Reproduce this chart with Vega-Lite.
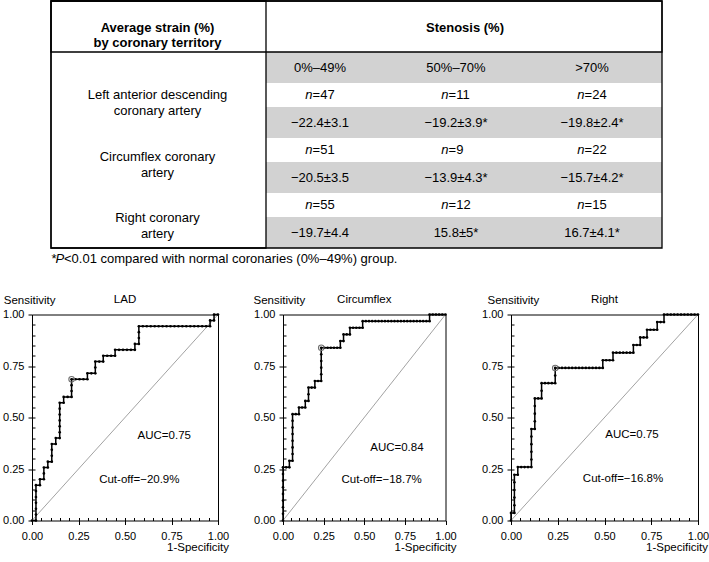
{
  "$schema": "https://vega.github.io/schema/vega-lite/v6.json",
  "padding": {"left": 2, "top": 0, "right": 0, "bottom": 0},
  "background": "white",
  "spacing": 23.5,
  "config": {
    "font": "Liberation Sans",
    "view": {"stroke": null},
    "text": {"font": "Liberation Sans", "fontSize": 13, "color": "black"},
    "axis": {"labelFont": "Liberation Sans", "titleFont": "Liberation Sans", "labelColor": "black", "titleColor": "black", "tickColor": "black", "domainColor": "black", "grid": false, "labelFlush": false},
    "title": {"font": "Liberation Sans", "color": "black", "fontWeight": "normal", "fontSize": 11.5}
  },
  "datasets": {
    "cells": [
      {"row": "r0", "territory": "all", "col": "0%–49%", "kind": "range", "label": "0%–49%"},
      {"row": "r0", "territory": "all", "col": "50%–70%", "kind": "range", "label": "50%–70%"},
      {"row": "r0", "territory": "all", "col": ">70%", "kind": "range", "label": ">70%"},
      {"row": "r1", "territory": "LAD", "col": "0%–49%", "kind": "n", "label": "n=47"},
      {"row": "r1", "territory": "LAD", "col": "50%–70%", "kind": "n", "label": "n=11"},
      {"row": "r1", "territory": "LAD", "col": ">70%", "kind": "n", "label": "n=24"},
      {"row": "r2", "territory": "LAD", "col": "0%–49%", "kind": "strain", "label": "−22.4±3.1"},
      {"row": "r2", "territory": "LAD", "col": "50%–70%", "kind": "strain", "label": "−19.2±3.9*"},
      {"row": "r2", "territory": "LAD", "col": ">70%", "kind": "strain", "label": "−19.8±2.4*"},
      {"row": "r3", "territory": "Circumflex", "col": "0%–49%", "kind": "n", "label": "n=51"},
      {"row": "r3", "territory": "Circumflex", "col": "50%–70%", "kind": "n", "label": "n=9"},
      {"row": "r3", "territory": "Circumflex", "col": ">70%", "kind": "n", "label": "n=22"},
      {"row": "r4", "territory": "Circumflex", "col": "0%–49%", "kind": "strain", "label": "−20.5±3.5"},
      {"row": "r4", "territory": "Circumflex", "col": "50%–70%", "kind": "strain", "label": "−13.9±4.3*"},
      {"row": "r4", "territory": "Circumflex", "col": ">70%", "kind": "strain", "label": "−15.7±4.2*"},
      {"row": "r5", "territory": "Right", "col": "0%–49%", "kind": "n", "label": "n=55"},
      {"row": "r5", "territory": "Right", "col": "50%–70%", "kind": "n", "label": "n=12"},
      {"row": "r5", "territory": "Right", "col": ">70%", "kind": "n", "label": "n=15"},
      {"row": "r6", "territory": "Right", "col": "0%–49%", "kind": "strain", "label": "−19.7±4.4"},
      {"row": "r6", "territory": "Right", "col": "50%–70%", "kind": "strain", "label": "15.8±5*"},
      {"row": "r6", "territory": "Right", "col": ">70%", "kind": "strain", "label": "16.7±4.1*"}
    ],
    "territories": [
      {"territory": "LAD", "label": ["Left anterior descending", "coronary artery"]},
      {"territory": "Circumflex", "label": ["Circumflex coronary", "artery"]},
      {"territory": "Right", "label": ["Right coronary", "artery"]}
    ],
    "cutoff": [
      {"territory": "LAD", "fpr": 0.2128, "sens": 0.6857},
      {"territory": "Circumflex", "fpr": 0.2353, "sens": 0.8387},
      {"territory": "Right", "fpr": 0.2364, "sens": 0.7407}
    ],
    "notes": [
      {"territory": "LAD", "title": "LAD", "auc": "AUC=0.75", "cut": "Cut-off=−20.9%"},
      {"territory": "Circumflex", "title": "Circumflex", "auc": "AUC=0.84", "cut": "Cut-off=−18.7%"},
      {"territory": "Right", "title": "Right", "auc": "AUC=0.75", "cut": "Cut-off=−16.8%"}
    ],
    "lad": [
      {"fpr": 0, "sens": 0}, {"fpr": 0.0213, "sens": 0}, {"fpr": 0.0213, "sens": 0.0286}, {"fpr": 0.0213, "sens": 0.0571}, {"fpr": 0.0213, "sens": 0.0857}, {"fpr": 0.0213, "sens": 0.1143}, {"fpr": 0.0213, "sens": 0.1429}, {"fpr": 0.0213, "sens": 0.1714},
      {"fpr": 0.0426, "sens": 0.1714}, {"fpr": 0.0426, "sens": 0.2},
      {"fpr": 0.0638, "sens": 0.2}, {"fpr": 0.0638, "sens": 0.2286}, {"fpr": 0.0638, "sens": 0.2571},
      {"fpr": 0.0851, "sens": 0.2571}, {"fpr": 0.0851, "sens": 0.2857},
      {"fpr": 0.1064, "sens": 0.2857}, {"fpr": 0.1064, "sens": 0.3143}, {"fpr": 0.1064, "sens": 0.3429}, {"fpr": 0.1064, "sens": 0.3714},
      {"fpr": 0.1277, "sens": 0.3714}, {"fpr": 0.1277, "sens": 0.4},
      {"fpr": 0.1489, "sens": 0.4}, {"fpr": 0.1489, "sens": 0.4286}, {"fpr": 0.1489, "sens": 0.4571}, {"fpr": 0.1489, "sens": 0.4857}, {"fpr": 0.1489, "sens": 0.5143}, {"fpr": 0.1489, "sens": 0.5429}, {"fpr": 0.1489, "sens": 0.5714},
      {"fpr": 0.1702, "sens": 0.5714}, {"fpr": 0.1702, "sens": 0.6},
      {"fpr": 0.1915, "sens": 0.6}, {"fpr": 0.2128, "sens": 0.6}, {"fpr": 0.2128, "sens": 0.6286}, {"fpr": 0.2128, "sens": 0.6571}, {"fpr": 0.2128, "sens": 0.6857},
      {"fpr": 0.234, "sens": 0.6857}, {"fpr": 0.2553, "sens": 0.6857}, {"fpr": 0.2766, "sens": 0.6857}, {"fpr": 0.2979, "sens": 0.6857}, {"fpr": 0.2979, "sens": 0.7143},
      {"fpr": 0.3191, "sens": 0.7143}, {"fpr": 0.3404, "sens": 0.7143}, {"fpr": 0.3404, "sens": 0.7429}, {"fpr": 0.3404, "sens": 0.7714},
      {"fpr": 0.3617, "sens": 0.7714}, {"fpr": 0.383, "sens": 0.7714}, {"fpr": 0.383, "sens": 0.8},
      {"fpr": 0.4043, "sens": 0.8}, {"fpr": 0.4255, "sens": 0.8}, {"fpr": 0.4468, "sens": 0.8}, {"fpr": 0.4468, "sens": 0.8286},
      {"fpr": 0.4681, "sens": 0.8286}, {"fpr": 0.4894, "sens": 0.8286}, {"fpr": 0.5106, "sens": 0.8286}, {"fpr": 0.5319, "sens": 0.8286}, {"fpr": 0.5532, "sens": 0.8286}, {"fpr": 0.5532, "sens": 0.8571},
      {"fpr": 0.5745, "sens": 0.8571}, {"fpr": 0.5745, "sens": 0.8857}, {"fpr": 0.5745, "sens": 0.9143}, {"fpr": 0.5745, "sens": 0.9429},
      {"fpr": 0.5957, "sens": 0.9429}, {"fpr": 0.617, "sens": 0.9429}, {"fpr": 0.6383, "sens": 0.9429}, {"fpr": 0.6596, "sens": 0.9429}, {"fpr": 0.6809, "sens": 0.9429}, {"fpr": 0.7021, "sens": 0.9429}, {"fpr": 0.7234, "sens": 0.9429}, {"fpr": 0.7447, "sens": 0.9429}, {"fpr": 0.766, "sens": 0.9429}, {"fpr": 0.7872, "sens": 0.9429}, {"fpr": 0.8085, "sens": 0.9429}, {"fpr": 0.8298, "sens": 0.9429}, {"fpr": 0.8511, "sens": 0.9429}, {"fpr": 0.8723, "sens": 0.9429}, {"fpr": 0.8936, "sens": 0.9429}, {"fpr": 0.9149, "sens": 0.9429}, {"fpr": 0.9362, "sens": 0.9429}, {"fpr": 0.9574, "sens": 0.9429},
      {"fpr": 0.9574, "sens": 0.9714}, {"fpr": 0.9787, "sens": 0.9714}, {"fpr": 0.9787, "sens": 1}, {"fpr": 1, "sens": 1}
    ],
    "cx": [
      {"fpr": 0, "sens": 0}, {"fpr": 0, "sens": 0.0323}, {"fpr": 0, "sens": 0.0645}, {"fpr": 0, "sens": 0.0968}, {"fpr": 0, "sens": 0.129}, {"fpr": 0, "sens": 0.1613}, {"fpr": 0, "sens": 0.1935}, {"fpr": 0, "sens": 0.2258}, {"fpr": 0, "sens": 0.2581},
      {"fpr": 0.0196, "sens": 0.2581}, {"fpr": 0.0392, "sens": 0.2581}, {"fpr": 0.0392, "sens": 0.2903},
      {"fpr": 0.0588, "sens": 0.2903}, {"fpr": 0.0588, "sens": 0.3226}, {"fpr": 0.0588, "sens": 0.3548}, {"fpr": 0.0588, "sens": 0.3871}, {"fpr": 0.0588, "sens": 0.4194}, {"fpr": 0.0588, "sens": 0.4516}, {"fpr": 0.0588, "sens": 0.4839}, {"fpr": 0.0588, "sens": 0.5161},
      {"fpr": 0.0784, "sens": 0.5161}, {"fpr": 0.098, "sens": 0.5161}, {"fpr": 0.098, "sens": 0.5484},
      {"fpr": 0.1176, "sens": 0.5484}, {"fpr": 0.1373, "sens": 0.5484}, {"fpr": 0.1373, "sens": 0.5806},
      {"fpr": 0.1569, "sens": 0.5806}, {"fpr": 0.1569, "sens": 0.6129}, {"fpr": 0.1569, "sens": 0.6452},
      {"fpr": 0.1765, "sens": 0.6452}, {"fpr": 0.1961, "sens": 0.6452}, {"fpr": 0.1961, "sens": 0.6774},
      {"fpr": 0.2157, "sens": 0.6774}, {"fpr": 0.2353, "sens": 0.6774}, {"fpr": 0.2353, "sens": 0.7097}, {"fpr": 0.2353, "sens": 0.7419}, {"fpr": 0.2353, "sens": 0.7742}, {"fpr": 0.2353, "sens": 0.8065}, {"fpr": 0.2353, "sens": 0.8387},
      {"fpr": 0.2549, "sens": 0.8387}, {"fpr": 0.2745, "sens": 0.8387}, {"fpr": 0.2941, "sens": 0.8387}, {"fpr": 0.3137, "sens": 0.8387}, {"fpr": 0.3333, "sens": 0.8387}, {"fpr": 0.3529, "sens": 0.8387}, {"fpr": 0.3529, "sens": 0.871},
      {"fpr": 0.3725, "sens": 0.871}, {"fpr": 0.3725, "sens": 0.9032},
      {"fpr": 0.3922, "sens": 0.9032}, {"fpr": 0.4118, "sens": 0.9032}, {"fpr": 0.4118, "sens": 0.9355},
      {"fpr": 0.4314, "sens": 0.9355}, {"fpr": 0.451, "sens": 0.9355}, {"fpr": 0.4706, "sens": 0.9355}, {"fpr": 0.4902, "sens": 0.9355}, {"fpr": 0.4902, "sens": 0.9677},
      {"fpr": 0.5098, "sens": 0.9677}, {"fpr": 0.5294, "sens": 0.9677}, {"fpr": 0.549, "sens": 0.9677}, {"fpr": 0.5686, "sens": 0.9677}, {"fpr": 0.5882, "sens": 0.9677}, {"fpr": 0.6078, "sens": 0.9677}, {"fpr": 0.6275, "sens": 0.9677}, {"fpr": 0.6471, "sens": 0.9677}, {"fpr": 0.6667, "sens": 0.9677}, {"fpr": 0.6863, "sens": 0.9677}, {"fpr": 0.7059, "sens": 0.9677}, {"fpr": 0.7255, "sens": 0.9677}, {"fpr": 0.7451, "sens": 0.9677}, {"fpr": 0.7647, "sens": 0.9677}, {"fpr": 0.7843, "sens": 0.9677}, {"fpr": 0.8039, "sens": 0.9677}, {"fpr": 0.8235, "sens": 0.9677}, {"fpr": 0.8431, "sens": 0.9677}, {"fpr": 0.8627, "sens": 0.9677}, {"fpr": 0.8824, "sens": 0.9677}, {"fpr": 0.902, "sens": 0.9677},
      {"fpr": 0.902, "sens": 1}, {"fpr": 0.9216, "sens": 1}, {"fpr": 0.9412, "sens": 1}, {"fpr": 0.9608, "sens": 1}, {"fpr": 0.9804, "sens": 1}, {"fpr": 1, "sens": 1}
    ],
    "rca": [
      {"fpr": 0, "sens": 0}, {"fpr": 0, "sens": 0.037},
      {"fpr": 0.0182, "sens": 0.037}, {"fpr": 0.0182, "sens": 0.0741}, {"fpr": 0.0182, "sens": 0.1111}, {"fpr": 0.0182, "sens": 0.1481}, {"fpr": 0.0182, "sens": 0.1852}, {"fpr": 0.0182, "sens": 0.2222},
      {"fpr": 0.0364, "sens": 0.2222}, {"fpr": 0.0364, "sens": 0.2593},
      {"fpr": 0.0545, "sens": 0.2593}, {"fpr": 0.0727, "sens": 0.2593}, {"fpr": 0.0909, "sens": 0.2593}, {"fpr": 0.1091, "sens": 0.2593}, {"fpr": 0.1091, "sens": 0.2963}, {"fpr": 0.1091, "sens": 0.3333}, {"fpr": 0.1091, "sens": 0.3704}, {"fpr": 0.1091, "sens": 0.4074}, {"fpr": 0.1091, "sens": 0.4444},
      {"fpr": 0.1273, "sens": 0.4444}, {"fpr": 0.1273, "sens": 0.4815}, {"fpr": 0.1273, "sens": 0.5185}, {"fpr": 0.1273, "sens": 0.5556}, {"fpr": 0.1273, "sens": 0.5926},
      {"fpr": 0.1455, "sens": 0.5926}, {"fpr": 0.1636, "sens": 0.5926}, {"fpr": 0.1636, "sens": 0.6296}, {"fpr": 0.1636, "sens": 0.6667},
      {"fpr": 0.1818, "sens": 0.6667}, {"fpr": 0.2, "sens": 0.6667}, {"fpr": 0.2182, "sens": 0.6667}, {"fpr": 0.2364, "sens": 0.6667}, {"fpr": 0.2364, "sens": 0.7037}, {"fpr": 0.2364, "sens": 0.7407},
      {"fpr": 0.2545, "sens": 0.7407}, {"fpr": 0.2727, "sens": 0.7407}, {"fpr": 0.2909, "sens": 0.7407}, {"fpr": 0.3091, "sens": 0.7407}, {"fpr": 0.3273, "sens": 0.7407}, {"fpr": 0.3455, "sens": 0.7407}, {"fpr": 0.3636, "sens": 0.7407}, {"fpr": 0.3818, "sens": 0.7407}, {"fpr": 0.4, "sens": 0.7407}, {"fpr": 0.4182, "sens": 0.7407}, {"fpr": 0.4364, "sens": 0.7407}, {"fpr": 0.4545, "sens": 0.7407}, {"fpr": 0.4727, "sens": 0.7407}, {"fpr": 0.4909, "sens": 0.7407},
      {"fpr": 0.4909, "sens": 0.7778}, {"fpr": 0.5091, "sens": 0.7778}, {"fpr": 0.5273, "sens": 0.7778}, {"fpr": 0.5455, "sens": 0.7778}, {"fpr": 0.5455, "sens": 0.8148},
      {"fpr": 0.5636, "sens": 0.8148}, {"fpr": 0.5818, "sens": 0.8148}, {"fpr": 0.6, "sens": 0.8148}, {"fpr": 0.6182, "sens": 0.8148}, {"fpr": 0.6364, "sens": 0.8148}, {"fpr": 0.6545, "sens": 0.8148}, {"fpr": 0.6545, "sens": 0.8519},
      {"fpr": 0.6727, "sens": 0.8519}, {"fpr": 0.6909, "sens": 0.8519}, {"fpr": 0.6909, "sens": 0.8889},
      {"fpr": 0.7091, "sens": 0.8889}, {"fpr": 0.7273, "sens": 0.8889}, {"fpr": 0.7273, "sens": 0.9259},
      {"fpr": 0.7455, "sens": 0.9259}, {"fpr": 0.7636, "sens": 0.9259}, {"fpr": 0.7818, "sens": 0.9259}, {"fpr": 0.7818, "sens": 0.963},
      {"fpr": 0.8, "sens": 0.963}, {"fpr": 0.8182, "sens": 0.963}, {"fpr": 0.8182, "sens": 1},
      {"fpr": 0.8364, "sens": 1}, {"fpr": 0.8545, "sens": 1}, {"fpr": 0.8727, "sens": 1}, {"fpr": 0.8909, "sens": 1}, {"fpr": 0.9091, "sens": 1}, {"fpr": 0.9273, "sens": 1}, {"fpr": 0.9455, "sens": 1}, {"fpr": 0.9636, "sens": 1}, {"fpr": 0.9818, "sens": 1}, {"fpr": 1, "sens": 1}
    ]
  },
  "vconcat": [
    {
      "width": 677,
      "height": 270,
      "view": {"stroke": null},
      "layer": [
        {
          "data": {"name": "cells"},
          "transform": [{"filter": "datum.kind !== 'n'"}],
          "mark": {"type": "rect", "fill": "#d2d2d2"},
          "encoding": {
            "x": {"field": "col", "type": "nominal", "scale": {"type": "band", "domain": ["0%–49%", "50%–70%", ">70%"], "range": [234, 630], "paddingInner": 0, "paddingOuter": 0}, "axis": null},
            "y": {"field": "row", "type": "nominal", "scale": {"type": "band", "domain": ["r0", "r2", "r4", "r6"], "range": [52, 248], "paddingInner": 0.4364, "paddingOuter": 0}, "axis": null}
          }
        },
        {
          "data": {"values": [{"part": "table"}]},
          "mark": {"type": "rect", "filled": false, "color": "black", "strokeWidth": 1.3},
          "encoding": {
            "x": {"field": "part", "type": "nominal", "scale": {"type": "band", "domain": ["table"], "range": [19, 630], "paddingInner": 0, "paddingOuter": 0}, "axis": null},
            "y": {"field": "part", "type": "nominal", "scale": {"type": "band", "domain": ["table"], "range": [1, 248], "paddingInner": 0, "paddingOuter": 0}, "axis": null}
          }
        },
        {
          "data": {"values": [{"part": "header"}]},
          "mark": {"type": "rect", "filled": false, "color": "black", "strokeWidth": 1.3},
          "encoding": {
            "x": {"field": "part", "type": "nominal", "scale": {"type": "band", "domain": ["header"], "range": [19, 630], "paddingInner": 0, "paddingOuter": 0}, "axis": null},
            "y": {"field": "part", "type": "nominal", "scale": {"type": "band", "domain": ["header"], "range": [1, 52], "paddingInner": 0, "paddingOuter": 0}, "axis": null}
          }
        },
        {
          "data": {"values": [{"part": "territory"}]},
          "mark": {"type": "rect", "filled": false, "color": "black", "strokeWidth": 1.3},
          "encoding": {
            "x": {"field": "part", "type": "nominal", "scale": {"type": "band", "domain": ["territory"], "range": [19, 234], "paddingInner": 0, "paddingOuter": 0}, "axis": null},
            "y": {"field": "part", "type": "nominal", "scale": {"type": "band", "domain": ["territory"], "range": [1, 248], "paddingInner": 0, "paddingOuter": 0}, "axis": null}
          }
        },
        {
          "data": {"name": "cells"},
          "transform": [{"filter": "datum.kind !== 'n'"}],
          "mark": {"type": "text", "fontSize": 13},
          "encoding": {
            "x": {"field": "col", "type": "nominal", "scale": {"type": "point", "domain": ["0%–49%", "50%–70%", ">70%"], "range": [288, 560], "padding": 0}, "axis": null},
            "y": {"field": "row", "type": "nominal", "scale": {"type": "point", "domain": ["r0", "r1", "r2", "r3", "r4", "r5", "r6"], "range": [67.5, 232.5], "padding": 0}, "axis": null},
            "text": {"field": "label"}
          }
        },
        {
          "data": {"name": "cells"},
          "transform": [{"filter": "datum.kind === 'n'"}],
          "mark": {"type": "text", "fontSize": 13, "fontStyle": "italic", "align": "right", "dx": -7.4},
          "encoding": {
            "x": {"field": "col", "type": "nominal", "scale": {"type": "point", "domain": ["0%–49%", "50%–70%", ">70%"], "range": [288, 560], "padding": 0}, "axis": null},
            "y": {"field": "row", "type": "nominal", "scale": {"type": "point", "domain": ["r0", "r1", "r2", "r3", "r4", "r5", "r6"], "range": [67.5, 232.5], "padding": 0}, "axis": null},
            "text": {"value": "n"}
          }
        },
        {
          "data": {"name": "cells"},
          "transform": [{"filter": "datum.kind === 'n'"}, {"calculate": "slice(datum.label, 1)", "as": "rest"}],
          "mark": {"type": "text", "fontSize": 13, "align": "left", "dx": -7.4},
          "encoding": {
            "x": {"field": "col", "type": "nominal", "scale": {"type": "point", "domain": ["0%–49%", "50%–70%", ">70%"], "range": [288, 560], "padding": 0}, "axis": null},
            "y": {"field": "row", "type": "nominal", "scale": {"type": "point", "domain": ["r0", "r1", "r2", "r3", "r4", "r5", "r6"], "range": [67.5, 232.5], "padding": 0}, "axis": null},
            "text": {"field": "rest"}
          }
        },
        {
          "data": {"values": [{"col": "territory", "row": "header", "label": ["Average strain (%)", "by coronary territory"]}]},
          "mark": {"type": "text", "fontSize": 13, "fontWeight": "bold", "lineHeight": 15.5},
          "encoding": {
            "x": {"field": "col", "type": "nominal", "scale": {"type": "point", "domain": ["territory"], "range": [19, 232]}, "axis": null},
            "y": {"field": "row", "type": "nominal", "scale": {"type": "point", "domain": ["header"], "range": [1, 54]}, "axis": null},
            "text": {"field": "label"}
          }
        },
        {
          "data": {"values": [{"col": "stenosis", "row": "header", "label": "Stenosis (%)"}]},
          "mark": {"type": "text", "fontSize": 13, "fontWeight": "bold"},
          "encoding": {
            "x": {"field": "col", "type": "nominal", "scale": {"type": "point", "domain": ["stenosis"], "range": [234, 632]}, "axis": null},
            "y": {"field": "row", "type": "nominal", "scale": {"type": "point", "domain": ["header"], "range": [1, 55.6]}, "axis": null},
            "text": {"field": "label"}
          }
        },
        {
          "data": {"name": "territories"},
          "mark": {"type": "text", "fontSize": 13, "lineHeight": 16},
          "encoding": {
            "x": {"datum": "territory", "type": "nominal", "scale": {"type": "point", "domain": ["territory"], "range": [19, 232]}, "axis": null},
            "y": {"field": "territory", "type": "nominal", "scale": {"type": "point", "domain": ["LAD", "Circumflex", "Right"], "range": [95.3, 218.4], "padding": 0}, "axis": null},
            "text": {"field": "label"}
          }
        },
        {
          "data": {"values": [{"part": "note", "star": "*", "p": "P", "rest": "<0.01 compared with normal coronaries (0%–49%) group."}]},
          "mark": {"type": "text", "fontSize": 13, "align": "left", "dx": 0.5},
          "encoding": {
            "x": {"field": "part", "type": "nominal", "scale": {"type": "point", "domain": ["note"], "range": [19, 19]}, "axis": null},
            "y": {"field": "part", "type": "nominal", "scale": {"type": "point", "domain": ["note"], "range": [259.3, 259.3]}, "axis": null},
            "text": {"field": "star"}
          }
        },
        {
          "data": {"values": [{"part": "note", "star": "*", "p": "P", "rest": "<0.01 compared with normal coronaries (0%–49%) group."}]},
          "mark": {"type": "text", "fontSize": 13, "align": "left", "fontStyle": "italic", "dx": 4.5},
          "encoding": {
            "x": {"field": "part", "type": "nominal", "scale": {"type": "point", "domain": ["note"], "range": [19, 19]}, "axis": null},
            "y": {"field": "part", "type": "nominal", "scale": {"type": "point", "domain": ["note"], "range": [259.3, 259.3]}, "axis": null},
            "text": {"field": "p"}
          }
        },
        {
          "data": {"values": [{"part": "note", "star": "*", "p": "P", "rest": "<0.01 compared with normal coronaries (0%–49%) group."}]},
          "mark": {"type": "text", "fontSize": 13, "align": "left", "dx": 13},
          "encoding": {
            "x": {"field": "part", "type": "nominal", "scale": {"type": "point", "domain": ["note"], "range": [19, 19]}, "axis": null},
            "y": {"field": "part", "type": "nominal", "scale": {"type": "point", "domain": ["note"], "range": [259.3, 259.3]}, "axis": null},
            "text": {"field": "rest"}
          }
        }
      ],
      "resolve": {"scale": {"x": "independent", "y": "independent"}}
    },
    {
      "bounds": "flush",
      "spacing": 65,
      "hconcat": [
        {
          "width": 186,
          "height": 206,
          "view": {"stroke": "black", "strokeWidth": 1},
          "layer": [
            {
              "data": {"values": [{}]},
              "mark": {"type": "rule", "color": "#8a8a8a", "strokeWidth": 0.8},
              "encoding": {
                "x": {"datum": 0, "type": "quantitative", "scale": {"domain": [0, 1], "nice": false, "zero": false}, "axis": {"values": [0, 0.25, 0.5, 0.75, 1], "format": ".2f", "tickSize": 4, "labelPadding": 6, "labelFontSize": 11, "labelOverlap": false, "labelFlush": false, "domain": false, "title": "1-Specificity", "titleFontSize": 11.5, "titleFontWeight": "normal", "titleX": 196.5, "titleY": 26.5, "titleAlign": "right", "titleBaseline": "middle"}},
                "y": {"datum": 0, "type": "quantitative", "scale": {"domain": [0, 1], "nice": false, "zero": false}, "axis": {"values": [0, 0.25, 0.5, 0.75, 1], "format": ".2f", "tickSize": 4, "labelPadding": 4, "labelFontSize": 11, "labelOverlap": false, "labelFlush": false, "domain": false, "title": "Sensitivity", "titleFontSize": 11.5, "titleFontWeight": "normal", "titleAngle": 0, "titleX": -28.7, "titleY": -14.5, "titleAlign": "left", "titleBaseline": "middle"}},
                "x2": {"datum": 1},
                "y2": {"datum": 1}
              }
            },
            {
              "data": {"name": "lad"},
              "mark": {"type": "line", "color": "black", "strokeWidth": 1.5},
              "encoding": {
                "x": {"field": "fpr", "type": "quantitative", "scale": {"domain": [0, 1], "nice": false, "zero": false}, "axis": {"orient": "bottom", "values": [0.05, 0.1, 0.15, 0.2, 0.25, 0.3, 0.35, 0.4, 0.45, 0.5, 0.55, 0.6, 0.65, 0.7, 0.75, 0.8, 0.85, 0.9, 0.95], "tickSize": -3, "labels": false, "domain": false, "title": null}},
                "y": {"field": "sens", "type": "quantitative", "scale": {"domain": [0, 1], "nice": false, "zero": false}, "axis": {"orient": "left", "values": [0.05, 0.1, 0.15, 0.2, 0.25, 0.3, 0.35, 0.4, 0.45, 0.5, 0.55, 0.6, 0.65, 0.7, 0.75, 0.8, 0.85, 0.9, 0.95], "tickSize": -3, "labels": false, "domain": false, "title": null}},
                "order": {"value": null}
              }
            },
            {
              "data": {"name": "lad"},
              "mark": {"type": "point", "filled": true, "color": "black", "size": 7, "opacity": 1},
              "encoding": {
                "x": {"field": "fpr", "type": "quantitative", "axis": null},
                "y": {"field": "sens", "type": "quantitative", "axis": null}
              }
            },
            {
              "data": {"name": "cutoff"},
              "transform": [{"filter": "datum.territory === 'LAD'"}],
              "mark": {"type": "point", "filled": false, "color": "#6e6e6e", "size": 30, "strokeWidth": 1.1, "opacity": 1},
              "encoding": {
                "x": {"field": "fpr", "type": "quantitative", "axis": null},
                "y": {"field": "sens", "type": "quantitative", "axis": null}
              }
            },
            {
              "data": {"name": "notes"},
              "transform": [{"filter": "datum.territory === 'LAD'"}],
              "mark": {"type": "text", "fontSize": 11.5, "dy": -14.5},
              "encoding": {
                "x": {"datum": 0.5, "type": "quantitative", "axis": null},
                "y": {"datum": 1, "type": "quantitative", "axis": null},
                "text": {"field": "title"}
              }
            },
            {
              "data": {"name": "notes"},
              "transform": [{"filter": "datum.territory === 'LAD'"}],
              "mark": {"type": "text", "fontSize": 11.5},
              "encoding": {
                "x": {"datum": 0.711, "type": "quantitative", "axis": null},
                "y": {"datum": 0.408, "type": "quantitative", "axis": null},
                "text": {"field": "auc"}
              }
            },
            {
              "data": {"name": "notes"},
              "transform": [{"filter": "datum.territory === 'LAD'"}],
              "mark": {"type": "text", "fontSize": 11.5},
              "encoding": {
                "x": {"datum": 0.577, "type": "quantitative", "axis": null},
                "y": {"datum": 0.197, "type": "quantitative", "axis": null},
                "text": {"field": "cut"}
              }
            }
          ],
          "resolve": {"axis": {"x": "independent", "y": "independent"}}
        },
        {
          "width": 162.5,
          "height": 206,
          "view": {"stroke": "black", "strokeWidth": 1},
          "layer": [
            {
              "data": {"values": [{}]},
              "mark": {"type": "rule", "color": "#8a8a8a", "strokeWidth": 0.8},
              "encoding": {
                "x": {"datum": 0, "type": "quantitative", "scale": {"domain": [0, 1], "nice": false, "zero": false}, "axis": {"values": [0, 0.25, 0.5, 0.75, 1], "format": ".2f", "tickSize": 4, "labelPadding": 6, "labelFontSize": 11, "labelOverlap": false, "labelFlush": false, "domain": false, "title": "1-Specificity", "titleFontSize": 11.5, "titleFontWeight": "normal", "titleX": 173, "titleY": 26.5, "titleAlign": "right", "titleBaseline": "middle"}},
                "y": {"datum": 0, "type": "quantitative", "scale": {"domain": [0, 1], "nice": false, "zero": false}, "axis": {"values": [0, 0.25, 0.5, 0.75, 1], "format": ".2f", "tickSize": 4, "labelPadding": 4, "labelFontSize": 11, "labelOverlap": false, "labelFlush": false, "domain": false, "title": "Sensitivity", "titleFontSize": 11.5, "titleFontWeight": "normal", "titleAngle": 0, "titleX": -30, "titleY": -14.5, "titleAlign": "left", "titleBaseline": "middle"}},
                "x2": {"datum": 1},
                "y2": {"datum": 1}
              }
            },
            {
              "data": {"name": "cx"},
              "mark": {"type": "line", "color": "black", "strokeWidth": 1.5},
              "encoding": {
                "x": {"field": "fpr", "type": "quantitative", "scale": {"domain": [0, 1], "nice": false, "zero": false}, "axis": {"orient": "bottom", "values": [0.05, 0.1, 0.15, 0.2, 0.25, 0.3, 0.35, 0.4, 0.45, 0.5, 0.55, 0.6, 0.65, 0.7, 0.75, 0.8, 0.85, 0.9, 0.95], "tickSize": -3, "labels": false, "domain": false, "title": null}},
                "y": {"field": "sens", "type": "quantitative", "scale": {"domain": [0, 1], "nice": false, "zero": false}, "axis": {"orient": "left", "values": [0.05, 0.1, 0.15, 0.2, 0.25, 0.3, 0.35, 0.4, 0.45, 0.5, 0.55, 0.6, 0.65, 0.7, 0.75, 0.8, 0.85, 0.9, 0.95], "tickSize": -3, "labels": false, "domain": false, "title": null}},
                "order": {"value": null}
              }
            },
            {
              "data": {"name": "cx"},
              "mark": {"type": "point", "filled": true, "color": "black", "size": 7, "opacity": 1},
              "encoding": {
                "x": {"field": "fpr", "type": "quantitative", "axis": null},
                "y": {"field": "sens", "type": "quantitative", "axis": null}
              }
            },
            {
              "data": {"name": "cutoff"},
              "transform": [{"filter": "datum.territory === 'Circumflex'"}],
              "mark": {"type": "point", "filled": false, "color": "#6e6e6e", "size": 30, "strokeWidth": 1.1, "opacity": 1},
              "encoding": {
                "x": {"field": "fpr", "type": "quantitative", "axis": null},
                "y": {"field": "sens", "type": "quantitative", "axis": null}
              }
            },
            {
              "data": {"name": "notes"},
              "transform": [{"filter": "datum.territory === 'Circumflex'"}],
              "mark": {"type": "text", "fontSize": 11.5, "dy": -14.5},
              "encoding": {
                "x": {"datum": 0.5, "type": "quantitative", "axis": null},
                "y": {"datum": 1, "type": "quantitative", "axis": null},
                "text": {"field": "title"}
              }
            },
            {
              "data": {"name": "notes"},
              "transform": [{"filter": "datum.territory === 'Circumflex'"}],
              "mark": {"type": "text", "fontSize": 11.5},
              "encoding": {
                "x": {"datum": 0.701, "type": "quantitative", "axis": null},
                "y": {"datum": 0.351, "type": "quantitative", "axis": null},
                "text": {"field": "auc"}
              }
            },
            {
              "data": {"name": "notes"},
              "transform": [{"filter": "datum.territory === 'Circumflex'"}],
              "mark": {"type": "text", "fontSize": 11.5},
              "encoding": {
                "x": {"datum": 0.607, "type": "quantitative", "axis": null},
                "y": {"datum": 0.199, "type": "quantitative", "axis": null},
                "text": {"field": "cut"}
              }
            }
          ],
          "resolve": {"axis": {"x": "independent", "y": "independent"}}
        },
        {
          "width": 187,
          "height": 206,
          "view": {"stroke": "black", "strokeWidth": 1},
          "layer": [
            {
              "data": {"values": [{}]},
              "mark": {"type": "rule", "color": "#8a8a8a", "strokeWidth": 0.8},
              "encoding": {
                "x": {"datum": 0, "type": "quantitative", "scale": {"domain": [0, 1], "nice": false, "zero": false}, "axis": {"values": [0, 0.25, 0.5, 0.75, 1], "format": ".2f", "tickSize": 4, "labelPadding": 6, "labelFontSize": 11, "labelOverlap": false, "labelFlush": false, "domain": false, "title": "1-Specificity", "titleFontSize": 11.5, "titleFontWeight": "normal", "titleX": 196.5, "titleY": 26.5, "titleAlign": "right", "titleBaseline": "middle"}},
                "y": {"datum": 0, "type": "quantitative", "scale": {"domain": [0, 1], "nice": false, "zero": false}, "axis": {"values": [0, 0.25, 0.5, 0.75, 1], "format": ".2f", "tickSize": 4, "labelPadding": 4, "labelFontSize": 11, "labelOverlap": false, "labelFlush": false, "domain": false, "title": "Sensitivity", "titleFontSize": 11.5, "titleFontWeight": "normal", "titleAngle": 0, "titleX": -24, "titleY": -14.5, "titleAlign": "left", "titleBaseline": "middle"}},
                "x2": {"datum": 1},
                "y2": {"datum": 1}
              }
            },
            {
              "data": {"name": "rca"},
              "mark": {"type": "line", "color": "black", "strokeWidth": 1.5},
              "encoding": {
                "x": {"field": "fpr", "type": "quantitative", "scale": {"domain": [0, 1], "nice": false, "zero": false}, "axis": {"orient": "bottom", "values": [0.05, 0.1, 0.15, 0.2, 0.25, 0.3, 0.35, 0.4, 0.45, 0.5, 0.55, 0.6, 0.65, 0.7, 0.75, 0.8, 0.85, 0.9, 0.95], "tickSize": -3, "labels": false, "domain": false, "title": null}},
                "y": {"field": "sens", "type": "quantitative", "scale": {"domain": [0, 1], "nice": false, "zero": false}, "axis": {"orient": "left", "values": [0.05, 0.1, 0.15, 0.2, 0.25, 0.3, 0.35, 0.4, 0.45, 0.5, 0.55, 0.6, 0.65, 0.7, 0.75, 0.8, 0.85, 0.9, 0.95], "tickSize": -3, "labels": false, "domain": false, "title": null}},
                "order": {"value": null}
              }
            },
            {
              "data": {"name": "rca"},
              "mark": {"type": "point", "filled": true, "color": "black", "size": 7, "opacity": 1},
              "encoding": {
                "x": {"field": "fpr", "type": "quantitative", "axis": null},
                "y": {"field": "sens", "type": "quantitative", "axis": null}
              }
            },
            {
              "data": {"name": "cutoff"},
              "transform": [{"filter": "datum.territory === 'Right'"}],
              "mark": {"type": "point", "filled": false, "color": "#6e6e6e", "size": 30, "strokeWidth": 1.1, "opacity": 1},
              "encoding": {
                "x": {"field": "fpr", "type": "quantitative", "axis": null},
                "y": {"field": "sens", "type": "quantitative", "axis": null}
              }
            },
            {
              "data": {"name": "notes"},
              "transform": [{"filter": "datum.territory === 'Right'"}],
              "mark": {"type": "text", "fontSize": 11.5, "dy": -14.5},
              "encoding": {
                "x": {"datum": 0.5, "type": "quantitative", "axis": null},
                "y": {"datum": 1, "type": "quantitative", "axis": null},
                "text": {"field": "title"}
              }
            },
            {
              "data": {"name": "notes"},
              "transform": [{"filter": "datum.territory === 'Right'"}],
              "mark": {"type": "text", "fontSize": 11.5},
              "encoding": {
                "x": {"datum": 0.647, "type": "quantitative", "axis": null},
                "y": {"datum": 0.4165, "type": "quantitative", "axis": null},
                "text": {"field": "auc"}
              }
            },
            {
              "data": {"name": "notes"},
              "transform": [{"filter": "datum.territory === 'Right'"}],
              "mark": {"type": "text", "fontSize": 11.5},
              "encoding": {
                "x": {"datum": 0.599, "type": "quantitative", "axis": null},
                "y": {"datum": 0.203, "type": "quantitative", "axis": null},
                "text": {"field": "cut"}
              }
            }
          ],
          "resolve": {"axis": {"x": "independent", "y": "independent"}}
        }
      ]
    }
  ]
}
